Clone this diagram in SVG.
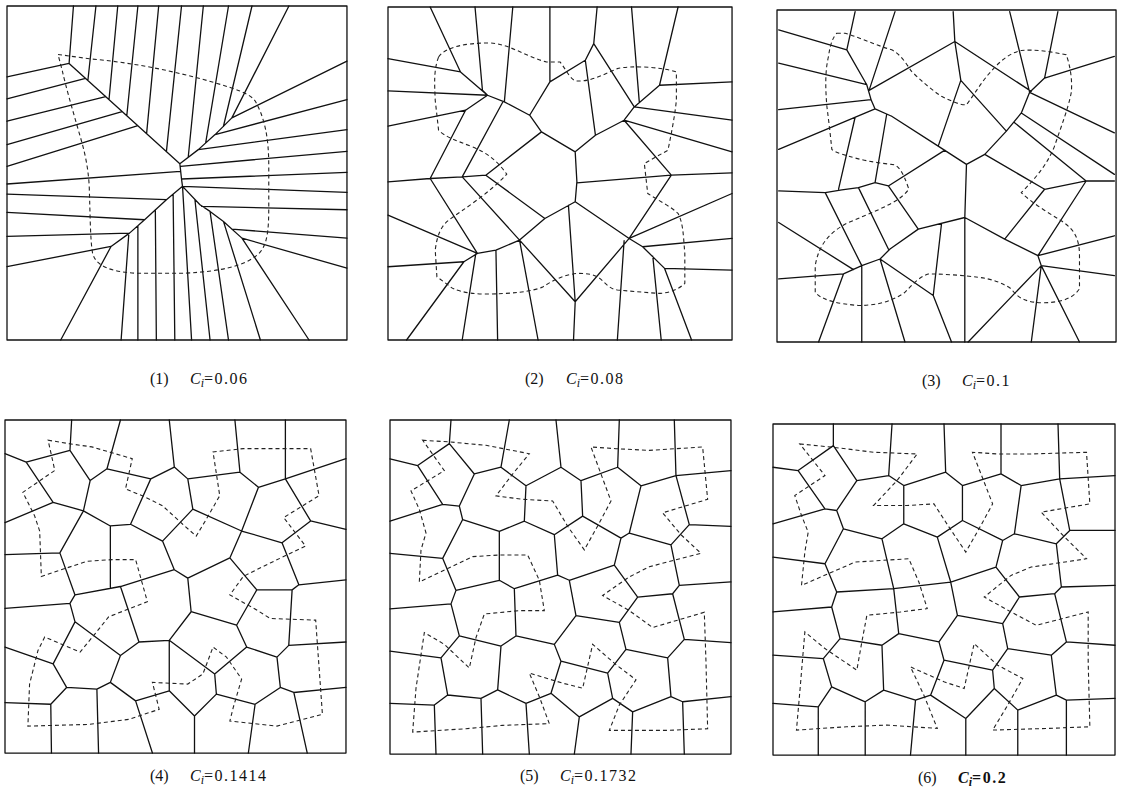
<svg xmlns="http://www.w3.org/2000/svg" width="1121" height="797" viewBox="0 0 1121 797">
<style>
.c{fill:none;stroke:#111;stroke-width:1.3;vector-effect:non-scaling-stroke;stroke-linejoin:round;stroke-linecap:round}
.d{fill:none;stroke:#222;stroke-width:1.1;stroke-dasharray:4 3;vector-effect:non-scaling-stroke}
.t{font-family:"Liberation Serif","Times New Roman",serif;font-size:16px;fill:#111}
.i{font-style:italic}
.s{font-style:italic;font-size:12px}
</style>
<rect width="1121" height="797" fill="#fff"/>

<g id="panel1" transform="matrix(0.3356 0 0 0.334 0.29 -0.68)">
<rect class="c" x="20" y="20" width="1013" height="1000"/>
<path class="c" d="M205 192 L535 492 M205 192 L20 232 M205 192 L218 20 M254 237 L20 298 M261 243 L285 20 M314 291 L20 365 M324 300 L350 20 M363 336 L20 435 M377 348 L410 20 M410 378 L20 500 M436 402 L472 20 M495 456 L540 20 M535 492 L540 538 L543 560 M20 553 L537 515 M535 492 L590 450 L640 405 L690 355 L860 20 M560 473 L605 20 M612 430 L680 20 M665 380 L750 20 M690 355 L1033 185 M640 405 L1033 300 M590 450 L1033 390 M537 500 L1033 455 M540 538 L1033 518 M543 560 L1033 578 M543 560 L495 600 L430 660 L385 700 L330 740 L180 1020 M543 560 L595 615 L625 635 L665 665 L720 715 L920 1020 M495 600 L20 583 M430 660 L20 638 M385 700 L20 710 M330 740 L20 800 M383 702 L360 1020 M410 678 L410 1020 M462 630 L465 1020 M515 583 L520 1020 M543 560 L570 1020 M580 600 L625 1020 M625 635 L680 1020 M665 665 L775 1020 M600 620 L1033 630 M690 688 L1033 715 M720 715 L1033 805"/>
<path class="d" d="M172 165 L265 178 C400 190 520 215 640 250 C700 268 745 282 760 305 C790 360 800 420 800 500 L800 620 C800 700 795 745 760 770 C720 800 650 815 550 820 L400 820 C330 815 285 800 275 760 C268 720 268 650 265 560 C262 500 250 450 235 400 C215 330 195 260 185 215 Z"/>
</g>

<g id="panel2" transform="matrix(0.3373 0 0 0.333 381.25 0.34)">
<rect class="c" x="20" y="20" width="1020" height="1000"/>
<path class="c" d="M145 20 L235 215 L315 285 M235 215 L20 175 M278 20 L300 270 L315 285 M20 272 L315 285 M315 285 L250 330 L20 378 M250 330 L145 535 L20 545 M315 285 L365 305 L440 345 L475 395 M390 20 L365 305 M360 306 L240 530 M145 535 L240 530 L310 525 M310 525 L475 395 L575 455 L580 545 L575 605 L485 655 Z M145 535 L285 760 M240 530 L410 720 M285 760 L340 750 L410 720 L485 655 M20 645 L285 760 M20 800 L245 785 L285 760 M245 785 L75 1020 M280 762 L240 1020 M340 750 L345 1020 M410 720 L465 1020 M410 720 L575 905 L735 715 M575 905 L570 1020 M555 616 L575 905 M575 605 L735 715 L775 740 L840 805 L1040 810 M775 740 L1040 715 M720 722 L700 1020 M805 768 L830 1020 M840 805 L920 1020 M735 715 L1040 580 M735 715 L860 525 M580 548 L860 525 L1040 518 M860 525 L720 360 M720 360 L1040 455 M575 455 L635 405 L720 360 L750 320 L825 255 L1040 245 M750 320 L1040 360 M825 255 L880 20 M750 320 L630 130 L640 20 M630 130 L605 180 L500 245 L440 345 M605 180 L635 405 M500 245 L500 20 M742 20 L765 305"/>
<path class="d" d="M170 170 C190 140 250 128 320 128 C380 130 430 170 490 185 L530 185 C550 210 560 240 580 242 C620 245 660 222 700 205 C740 195 830 200 875 215 L875 300 C870 350 860 400 850 450 L780 490 L790 580 C820 600 860 620 880 640 C895 670 895 700 900 760 L900 850 C880 870 850 880 820 880 L700 870 C670 865 660 840 640 830 C620 820 600 820 580 820 C540 825 510 840 480 860 C450 875 380 882 300 882 C250 880 215 870 205 860 L165 830 L160 750 C165 710 175 680 200 660 C240 630 320 580 372 522 C350 490 320 460 270 440 C220 420 190 410 170 390 L160 300 C158 250 155 210 170 170 Z"/>
</g>

<g id="panel3" transform="matrix(0.3324 0 0 0.332 765.37 0.04)">
<rect class="c" x="35" y="30" width="1020" height="1000"/>
<path class="c" d="M40 90 L245 150 L305 255 M270 35 L245 150 M40 190 L305 255 M390 35 L312 272 M570 125 L312 272 M305 255 L318 300 L330 328 L380 350 M40 330 L318 300 M40 450 L330 328 M270 353 L220 570 M365 344 L330 550 M380 350 L520 440 L605 495 L600 655 M570 125 L565 35 M570 125 L800 275 M570 125 L588 242 L520 440 M588 242 L725 395 M605 495 L660 465 L725 395 L770 340 L795 278 M735 35 L795 278 M795 278 L840 235 L880 35 M840 235 L1050 170 M795 278 L1050 400 M770 340 L1050 525 M748 368 L965 545 M660 465 L840 570 L965 545 L1050 545 M840 570 L720 720 M965 545 L820 770 M600 655 L720 720 L820 770 L1050 710 M820 770 L830 800 L1050 830 M830 800 L800 1030 M830 800 L945 1030 M830 800 L610 1030 M600 655 L600 1030 M40 575 L180 580 L230 572 L280 565 L330 550 L370 560 L540 452 M180 580 L290 800 M280 565 L370 750 M370 560 L460 690 L600 655 M460 690 L375 750 L345 780 L290 800 L235 825 L40 840 M235 825 L160 1030 M290 800 L290 1030 M345 780 L420 1030 M345 780 L505 890 L560 1030 M530 673 L505 890 M40 670 L265 812"/>
<path class="d" d="M215 100 L240 100 C290 115 330 135 380 150 C410 165 425 195 440 215 C470 245 500 270 530 290 C560 305 590 318 605 315 C625 290 645 255 670 225 C700 190 730 160 770 152 C810 148 860 155 905 165 C915 190 925 240 920 280 C910 330 890 380 870 440 C850 490 820 530 770 580 C800 610 850 640 890 665 C930 690 945 720 945 770 L945 870 C920 905 880 910 840 912 C790 912 760 900 740 870 C710 850 680 840 640 835 C600 830 540 825 490 825 C460 835 440 860 420 880 C380 910 330 920 280 920 C220 915 170 905 150 880 L150 800 C160 740 190 700 250 670 C310 645 360 625 400 600 C420 585 435 570 430 565 C415 520 400 495 380 495 C330 490 280 480 250 470 C220 462 205 455 200 450 C195 400 190 360 185 320 C180 260 180 210 190 170 C195 130 205 110 215 100 Z"/>
</g>

<g id="panel4" transform="matrix(0.3366 0 0 0.3364 0.96 414.95)">
<rect class="c" x="12" y="15" width="1013" height="990"/>
<path class="c" d="M210 15 L205 105 M355 15 L315 160 M500 15 L515 155 M695 15 L710 170 M845 15 L845 190 M12 115 L75 140 M12 320 L155 260 M12 415 L175 410 M12 575 L205 560 M12 690 L155 740 M12 855 L148 860 M1025 130 L845 190 M1025 340 L920 315 M1025 490 L885 505 M1025 675 L855 685 M1025 810 L870 825 M150 1005 L148 860 M290 1005 L285 815 M450 1005 L400 850 M575 1005 L575 895 M735 1005 L755 860 M910 1005 L870 825 M75 140 L205 105 L265 195 L315 160 L445 190 L515 155 L555 190 L710 170 L765 215 L845 190 L920 315 L835 380 L715 345 L570 280 L555 190 M75 140 L155 260 L245 285 L265 195 M570 280 L480 375 L385 325 L445 190 M385 325 L325 330 L245 285 M245 285 L175 410 L220 535 L205 560 L220 615 L155 740 L195 810 L148 860 M325 330 L325 515 M480 375 L515 460 L355 510 L220 535 M715 345 L765 215 M715 345 L680 425 L555 485 L515 460 M680 425 L760 520 L865 520 L885 505 L835 380 M865 520 L855 685 L820 720 L730 690 L700 625 L760 520 M700 625 L565 585 L555 485 M565 585 L500 670 L410 675 L355 510 M220 615 L355 715 L410 675 M195 810 L285 815 L325 795 L355 715 M325 795 L400 850 L500 820 L500 670 M500 670 L635 770 L730 690 M635 770 L640 830 L575 895 L500 820 M640 830 L755 860 L830 810 L870 825 M830 810 L820 720"/>
<path class="d" d="M140 75 L200 85 L270 95 L390 130 L370 220 L420 240 L480 270 L540 325 L580 360 L610 310 L650 240 L630 110 L720 100 L820 100 L920 100 L945 240 L840 305 L905 390 L800 440 L720 480 L680 535 L760 580 L800 605 L935 610 L945 750 L955 890 L820 925 L680 910 L690 870 L715 785 L670 720 L630 690 L600 770 L555 800 L450 795 L470 875 L380 905 L260 920 L80 925 L85 800 L110 700 L130 660 L235 705 L280 650 L320 600 L435 555 L400 430 L330 430 L255 435 L120 480 L115 345 L100 300 L65 230 L160 165 Z"/>
</g>

<g id="panel5" transform="matrix(0.3333 0 0 0.3374 382.67 414.94)">
<rect class="c" x="22" y="15" width="1023" height="990"/>
<path class="c" d="M205 15 L200 85 M380 15 L355 155 M520 15 L535 155 M710 15 L705 155 M875 15 L880 180 M22 130 L105 150 M22 315 L180 265 M22 410 L180 425 M22 575 L205 560 M22 700 L175 720 M22 855 L155 860 M1045 165 L880 180 M1045 330 L920 325 M1045 495 L890 505 M1045 675 L905 665 M1045 835 L900 850 M160 1005 L155 860 M300 1005 L295 840 M440 1005 L430 855 M575 1005 L590 895 M745 1005 L750 880 M905 1005 L900 850 M105 150 L200 85 L275 175 L355 155 L430 210 L535 155 L595 195 L705 155 L775 210 L880 180 L920 325 L865 385 L740 350 L775 210 M105 150 L180 265 L230 270 L275 175 M740 350 L715 365 L600 300 L595 195 M600 300 L515 355 L425 315 L430 210 M425 315 L350 345 L240 310 L230 270 M240 310 L180 425 L220 520 L350 490 L350 345 M350 490 L395 515 L525 475 L515 355 M525 475 L560 490 L695 445 L715 365 M695 445 L765 540 L870 530 L890 505 L865 385 M870 530 L905 665 L855 720 L730 695 L710 615 L765 540 M710 615 L580 595 L560 490 M580 595 L515 680 L400 655 L395 515 M220 520 L205 560 L230 655 L355 685 L400 655 M230 655 L175 720 L195 830 L155 860 M195 830 L295 840 L345 815 L355 685 M345 815 L430 855 L505 825 L535 730 L515 680 M535 730 L675 765 L730 695 M675 765 L690 840 L590 895 L505 825 M690 840 L750 880 L865 835 L855 720 M865 835 L900 850"/>
<path class="d" d="M120 75 L200 80 L310 90 L440 115 L390 175 L340 240 L420 250 L510 255 L555 330 L605 400 L650 320 L685 255 L625 95 L700 100 L800 105 L960 95 L975 250 L840 290 L895 355 L955 410 L800 450 L740 480 L660 535 L740 580 L810 630 L965 585 L970 730 L975 930 L850 935 L680 935 L710 860 L760 785 L700 740 L630 680 L600 810 L540 795 L440 765 L470 835 L500 915 L360 920 L250 930 L90 940 L100 810 L125 645 L185 680 L260 750 L280 660 L305 590 L410 580 L485 580 L470 490 L435 415 L350 415 L270 420 L110 495 L115 400 L130 350 L110 280 L85 225 L185 165 Z"/>
</g>

<g id="panel6" transform="matrix(0.3353 0 0 0.3327 762.94 415.68)">
<rect class="c" x="30" y="25" width="1020" height="995"/>
<path class="c" d="M210 25 L210 90 M385 25 L375 180 M540 25 L545 170 M710 25 L710 175 M880 25 L885 190 M30 155 L105 165 M30 325 L185 280 M30 425 L185 445 M30 590 L205 575 M30 720 L180 730 M30 865 L165 875 M1050 180 L885 190 M1050 345 L915 345 M1050 510 L890 515 M1050 690 L905 680 M1050 850 L905 855 M165 1020 L165 875 M305 1020 L305 860 M440 1020 L455 855 M605 1020 L605 910 M760 1020 L760 885 M905 1020 L905 855 M105 165 L210 90 L280 195 L375 180 L420 210 L545 170 L595 210 L710 175 L770 210 L885 190 L915 345 L875 385 L750 355 L770 210 M105 165 L185 280 L220 285 L280 195 M750 355 L715 375 L595 315 L595 210 M595 315 L520 365 L420 325 L420 210 M420 325 L355 370 L240 340 L220 285 M240 340 L185 445 L220 530 L390 520 L355 370 M390 520 L560 500 L520 365 M560 500 L695 455 L715 375 M695 455 L765 545 L870 535 L890 515 L875 385 M870 535 L905 680 L860 720 L730 700 L715 625 L765 545 M715 625 L580 600 L560 500 M580 600 L525 680 L405 655 L390 520 M220 530 L205 575 L230 670 L355 690 L405 655 M230 670 L180 730 L205 815 L165 875 M205 815 L305 860 L360 825 L355 690 M360 825 L455 855 L500 840 L540 735 L525 680 M540 735 L685 765 L730 700 M685 765 L690 820 L605 910 L500 840 M690 820 L760 885 L875 840 L860 720 M875 840 L905 855"/>
<path class="d" d="M110 85 L210 95 L330 110 L460 115 L400 195 L330 270 L430 270 L510 265 L555 335 L605 410 L650 330 L685 265 L625 110 L700 115 L800 115 L965 110 L975 265 L830 290 L895 360 L965 430 L800 455 L740 480 L660 545 L740 590 L815 630 L970 590 L970 740 L975 935 L850 940 L685 945 L730 870 L775 790 L700 750 L630 685 L600 820 L540 800 L440 755 L480 840 L520 940 L370 930 L250 935 L100 945 L110 830 L125 650 L185 700 L280 765 L295 680 L310 600 L410 590 L490 580 L465 500 L435 430 L355 435 L275 440 L115 510 L125 410 L135 350 L115 300 L95 240 L185 180 Z"/>
</g>

<g id="labels">
<text class="t" x="150" y="384">(1)<tspan x="190" class="i">C</tspan><tspan class="s" dy="3">i</tspan><tspan dy="-3" letter-spacing="1.5">=0.06</tspan></text>
<text class="t" x="525" y="384">(2)<tspan x="566" class="i">C</tspan><tspan class="s" dy="3">i</tspan><tspan dy="-3" letter-spacing="1.5">=0.08</tspan></text>
<text class="t" x="922" y="386">(3)<tspan x="962" class="i">C</tspan><tspan class="s" dy="3">i</tspan><tspan dy="-3" letter-spacing="1.5">=0.1</tspan></text>
<text class="t" x="150" y="781">(4)<tspan x="190" class="i">C</tspan><tspan class="s" dy="3">i</tspan><tspan dy="-3" letter-spacing="1.5">=0.1414</tspan></text>
<text class="t" x="520" y="781">(5)<tspan x="560" class="i">C</tspan><tspan class="s" dy="3">i</tspan><tspan dy="-3" letter-spacing="1.5">=0.1732</tspan></text>
<text class="t" x="918" y="783">(6)<tspan x="958" class="i" font-weight="bold">C</tspan><tspan class="s" dy="3" font-weight="bold">i</tspan><tspan dy="-3" letter-spacing="1.5" font-weight="bold">=0.2</tspan></text>
</g>
</svg>
